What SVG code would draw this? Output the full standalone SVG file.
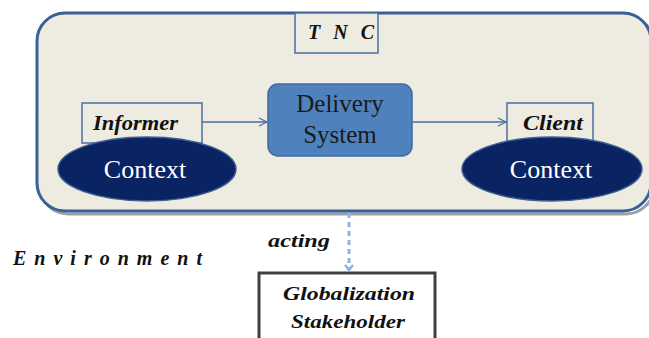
<svg xmlns="http://www.w3.org/2000/svg" width="649" height="338" viewBox="0 0 649 338">
<defs>
<style>
.lbl{font-family:'Liberation Serif','DejaVu Serif',serif;font-weight:bold;font-style:italic;fill:#111;}
.ctx{font-family:'Liberation Serif','DejaVu Serif',serif;font-size:26px;fill:#fff;text-anchor:middle;}
.ds{font-family:'Liberation Serif','DejaVu Serif',serif;font-size:25px;fill:#1a1a1a;text-anchor:middle;}
.box{fill:#eeebe0;stroke:#4a6fa5;stroke-width:1.5;}
.ell{fill:#0a2463;stroke:#3d5f93;stroke-width:1.5;}
.conn{stroke:#4a6fa5;stroke-width:1.5;fill:none;}
</style>
<marker id="open" viewBox="0 0 10 10" refX="9" refY="5" markerWidth="10" markerHeight="10" markerUnits="userSpaceOnUse" orient="auto">
<path d="M1,1 L9,5 L1,9" fill="none" stroke="#4a6fa5" stroke-width="1.3"/>
</marker>
<marker id="dash" viewBox="0 0 10 10" refX="5" refY="8" markerWidth="10" markerHeight="10" markerUnits="userSpaceOnUse" orient="0">
<path d="M1,3 L5,8 L9,3" fill="none" stroke="#8eb4e3" stroke-width="2.5"/>
</marker>
</defs>
<rect width="649" height="338" fill="#fff"/>
<g id="tnc-frame">
<rect x="40" y="16" width="614" height="198" rx="28" fill="none" stroke="#9aa0a8" stroke-width="3"/>
<rect x="37" y="13" width="614" height="198" rx="28" fill="#eeebe0" stroke="#3a6096" stroke-width="3"/>
</g>
<g id="tnc">
<rect class="box" x="295" y="13" width="83" height="40"/>
<text class="lbl" x="308" y="39" font-size="20" textLength="66" lengthAdjust="spacing">T N C</text>
</g>
<g id="informer">
<rect class="box" x="82" y="103" width="120" height="40"/>
<text class="lbl" x="93" y="130" font-size="21" textLength="85" lengthAdjust="spacingAndGlyphs">Informer</text>
</g>
<g id="context-left">
<ellipse class="ell" cx="147" cy="169" rx="89" ry="32"/>
<text class="ctx" x="145" y="178">Context</text>
</g>
<g id="delivery">
<rect x="268" y="84" width="144" height="72" rx="10" fill="#4f81bd" stroke="#3c6aa5" stroke-width="1.5"/>
<text class="ds" x="340" y="112">Delivery</text>
<text class="ds" x="340" y="143">System</text>
</g>
<g id="client">
<rect class="box" x="507" y="103" width="86" height="40"/>
<text class="lbl" x="523" y="130" font-size="21" textLength="60" lengthAdjust="spacingAndGlyphs">Client</text>
</g>
<g id="context-right">
<ellipse class="ell" cx="552" cy="169" rx="90" ry="32"/>
<text class="ctx" x="551" y="178">Context</text>
</g>
<g id="globalization">
<rect x="259" y="273" width="176" height="80" fill="#fff" stroke="#404040" stroke-width="3"/>
<text class="lbl" x="349" y="300" font-size="18" text-anchor="middle" textLength="132" lengthAdjust="spacingAndGlyphs">Globalization</text>
<text class="lbl" x="348" y="328" font-size="18" text-anchor="middle" textLength="114" lengthAdjust="spacingAndGlyphs">Stakeholder</text>
</g>
<g id="environment">
<text class="lbl" x="13" y="265" font-size="20" textLength="189" lengthAdjust="spacing">Environment</text>
</g>
<g id="connectors">
<line class="conn" x1="202" y1="122" x2="267" y2="122" marker-end="url(#open)"/>
<line class="conn" x1="412" y1="122" x2="506" y2="122" marker-end="url(#open)"/>
<line x1="349" y1="213" x2="349" y2="270" stroke="#8eb4e3" stroke-width="3" stroke-dasharray="5,4" marker-end="url(#dash)"/>
<text class="lbl" x="268" y="247" font-size="19" textLength="62" lengthAdjust="spacingAndGlyphs">acting</text>
</g>
</svg>
